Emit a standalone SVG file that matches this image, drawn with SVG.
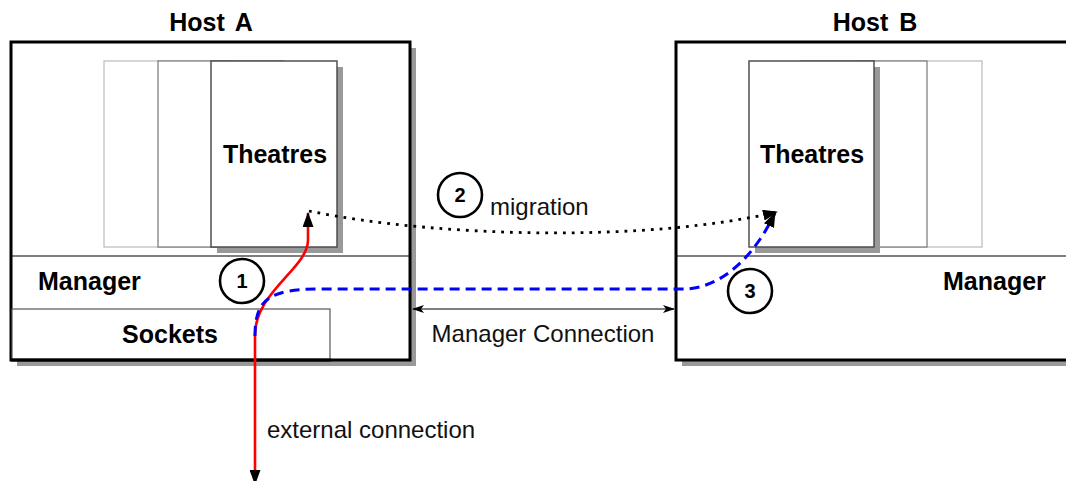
<svg xmlns="http://www.w3.org/2000/svg" width="1066" height="481" viewBox="0 0 1066 481">
  <style>
    .host { fill: #fff; stroke: #000; stroke-width: 3; }
    .shadow { fill: #999; stroke: none; }
    .sep { stroke: #000; stroke-width: 1.2; fill: none; }
    .th1 { fill: #fff; stroke: #bbb; stroke-width: 1.2; }
    .th2 { fill: #fff; stroke: #777; stroke-width: 1.2; }
    .th3 { fill: #fff; stroke: #444; stroke-width: 1.4; }
    .sock { fill: #fff; stroke: #555; stroke-width: 1.2; }
    .bold { font-family: "Liberation Sans", Arial, sans-serif; font-weight: bold; font-size: 25px; fill: #000; }
    .label { font-family: "Liberation Sans", Arial, sans-serif; font-size: 24px; fill: #111; }
    .num { font-family: "Liberation Sans", Arial, sans-serif; font-weight: bold; font-size: 20px; fill: #000; text-anchor: middle; }
    .step { fill: #fff; stroke: #000; stroke-width: 2.6; }
  </style>
  <defs>
    <marker id="head" viewBox="0 0 15 11" refX="14" refY="5.5" markerWidth="15" markerHeight="11" markerUnits="userSpaceOnUse" orient="auto-start-reverse">
      <path d="M0,0 L15,5.5 L0,11 Z" fill="#000"/>
    </marker>
    <marker id="small" viewBox="0 0 12 8" refX="11" refY="4" markerWidth="12" markerHeight="8" markerUnits="userSpaceOnUse" orient="auto-start-reverse">
      <path d="M0,0 L12,4 L0,8 L3,4 Z" fill="#000"/>
    </marker>
  </defs>

  <!-- Host A -->
  <g id="hostA">
    <text class="bold" x="211" y="31" text-anchor="middle" word-spacing="4">Host A</text>
    <rect class="shadow" x="17" y="48" width="399" height="318"/>
    <rect class="host" x="11" y="42" width="399" height="318"/>
    <rect class="th1" x="104" y="61" width="126" height="186"/>
    <rect class="th2" x="158" y="61" width="126" height="186"/>
    <rect class="shadow" x="217" y="67" width="126" height="186"/>
    <rect class="th3" x="211" y="61" width="126" height="186"/>
    <text class="bold" x="275" y="163" text-anchor="middle">Theatres</text>
    <line class="sep" x1="12" y1="256" x2="409" y2="256"/>
    <text class="bold" x="38" y="290">Manager</text>
    <rect class="sock" x="12" y="309" width="318" height="50"/>
    <text class="bold" x="170" y="343" text-anchor="middle">Sockets</text>
    <rect x="11" y="358.5" width="320" height="3" fill="#000"/>
  </g>

  <!-- Host B -->
  <g id="hostB">
    <text class="bold" x="875" y="31" text-anchor="middle" word-spacing="4">Host B</text>
    <rect class="shadow" x="682" y="48" width="400" height="318"/>
    <rect class="host" x="676" y="42" width="400" height="318"/>
    <rect class="th1" x="856" y="61" width="126" height="186"/>
    <rect class="th2" x="801" y="61" width="126" height="186"/>
    <rect class="shadow" x="755" y="67" width="125" height="186"/>
    <rect class="th3" x="749" y="61" width="125" height="186"/>
    <text class="bold" x="812" y="163" text-anchor="middle">Theatres</text>
    <line class="sep" x1="677" y1="256" x2="1066" y2="256"/>
    <text class="bold" x="943" y="290">Manager</text>
  </g>

  <!-- Connectors -->
  <g id="connectors" fill="none">
    <!-- external connection through the sockets up to the theatres -->
    <path d="M308,213 L308,240 C308,268 255,292 255,335 L255,484" stroke="#f00" stroke-width="2.6" marker-start="url(#head)" marker-end="url(#head)"/>
    <!-- manager link between the two hosts -->
    <path d="M255,336 C255,300 268,289 320,289 L683,289 C722,289 755,255 775,213" stroke="#0000ff" stroke-width="3" stroke-dasharray="10 6" marker-end="url(#head)"/>
    <!-- migration of a theatre -->
    <path d="M309,211 C440,238 650,242 777,212" stroke="#000" stroke-width="2.8" stroke-dasharray="2.8 6" marker-end="url(#head)"/>
    <!-- manager connection span -->
    <line x1="413" y1="309" x2="674" y2="309" stroke="#000" stroke-width="1.2" marker-start="url(#small)" marker-end="url(#small)"/>
  </g>

  <!-- Labels and step markers -->
  <g id="step1">
    <circle class="step" cx="242" cy="281" r="22"/>
    <text class="num" x="242" y="288">1</text>
  </g>
  <g id="step2">
    <circle class="step" cx="460" cy="195" r="22"/>
    <text class="num" x="460" y="202">2</text>
    <text class="label" x="490" y="215">migration</text>
  </g>
  <g id="step3">
    <circle class="step" cx="750" cy="291" r="22"/>
    <text class="num" x="750" y="298">3</text>
  </g>
  <g id="labels">
    <text class="label" x="543" y="342" text-anchor="middle">Manager Connection</text>
    <text class="label" x="267" y="438">external connection</text>
  </g>
</svg>
